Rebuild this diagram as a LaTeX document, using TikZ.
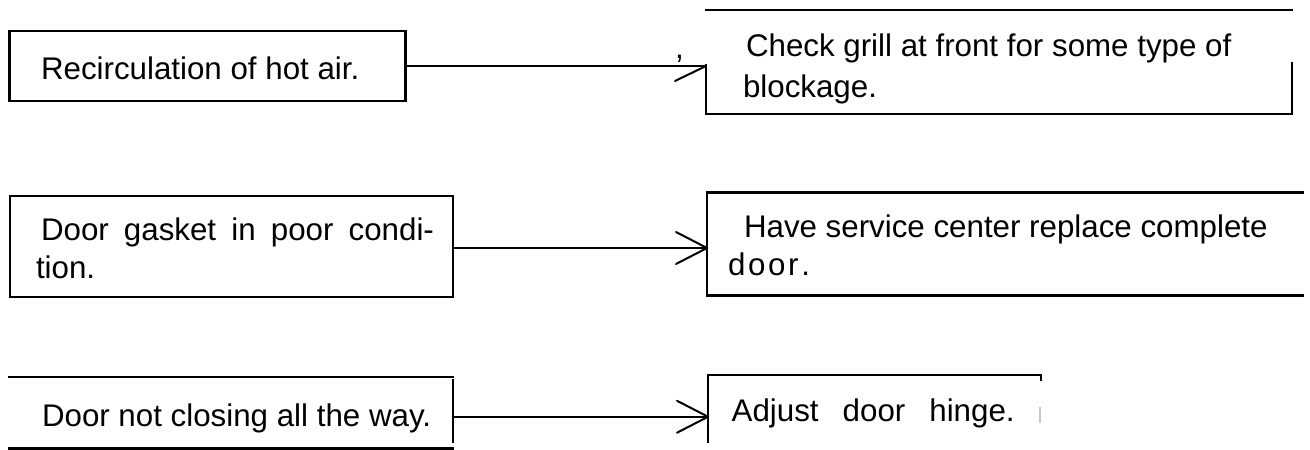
\documentclass[tikz,border=0pt]{standalone}
\usepackage{fontspec}
\setmainfont{Liberation Sans}
\usetikzlibrary{calc}
\begin{document}
\begin{tikzpicture}[x=1pt,y=-1pt,
  frame/.style={draw=none, rectangle, inner sep=0pt, outer sep=0pt},
  edge/.style={line width=2.4pt, line cap=rect},
  conn/.style={line width=2pt},
  barb/.style={line width=2pt, line cap=round, line join=round},
  txt/.style={anchor=base west, inner sep=0pt, outer sep=0pt, font=\fontsize{31.3}{40}\selectfont}]
\useasboundingbox (0,0) rectangle (1310,450);

% ---- row 1
\node[frame, minimum width=396pt, minimum height=70pt] (b1) at (207.5,66) {};
\draw[edge] (b1.north west) rectangle (b1.south east);
\node[txt] (t1) at (41,79) {Recirculation of hot air.};

\node[frame, minimum width=586pt, minimum height=104pt] (c1) at (999,62) {};
\draw[edge] (c1.north west) -- (c1.north east);
\draw[edge] (c1.south west) -- (c1.south east);
\draw[edge] (c1.south west) -- ($(c1.south west)+(0,-49)$);
\draw[edge] (c1.south east) -- ($(c1.south east)+(0,-51)$);
\node[txt] (t2a) at (746,56) {Check grill at front for some type of};
\node[txt] (t2b) at (743,97) {blockage.};

\draw[conn] (b1.east) -- (b1.east -| c1.west) coordinate (tip1);
\draw[barb] ($(tip1)+(-31,15)$) -- (tip1);
\node[txt] (cm) at (675,58) {,};

% ---- row 2
\node[frame, minimum width=443pt, minimum height=101pt] (b3) at (231.5,246.5) {};
\draw[edge] (b3.north west) rectangle (b3.south east);
\node[txt] (t3a) at (41,240.5) {\hbox to 393pt{Door\hfil gasket\hfil in\hfil poor\hfil condi-}};
\node[txt] (t3b) at (36,278.3) {tion.};

\node[frame, minimum width=596pt, minimum height=103pt] (c3) at (1005,243.8) {};
\draw[edge] (c3.north east) -- (c3.north west) -- (c3.south west) -- (c3.south east);
\node[txt] (t4a) at (744,237.3) {Have service center replace complete};
\node[txt] (t4b) at (728,275) {\hbox to 82pt{d\hfil o\hfil o\hfil r\hfil .}};

\path ($(b3.east)+(0,1.5)$) coordinate (s2);
\draw[conn] (s2) -- (s2 -| c3.west) coordinate (tip2);
\draw[barb] ($(tip2)+(-31,-16)$) -- (tip2) -- ($(tip2)+(-31,16)$);

% ---- row 3
\node[frame, minimum width=443.5pt, minimum height=71.5pt] (b5) at (231.25,412.75) {};
\draw[edge] (b5.north west) -- (b5.north east);
\draw[edge] (b5.south west) -- (b5.south east);
\draw[edge] ($(b5.north east)+(0,3)$) -- ($(b5.south east)+(0,-6.5)$);
\node[txt] (t5) at (42,426.7) {Door not closing all the way.};

\node[frame, minimum width=333pt, minimum height=67pt] (c5) at (874.5,408.5) {};
\draw[edge] (c5.south west) -- (c5.north west) -- (c5.north east) -- ($(c5.north east)+(0,5)$);
\draw[gray!45, line width=1.5pt] ($(c5.north east)+(-1,32)$) -- ($(c5.north east)+(-1,48)$);
\node[txt] (t6) at (731.7,421.7) {\hbox to 283pt{Adjust\hfil door\hfil hinge.}};

\path ($(b5.east)+(0,4)$) coordinate (s3);
\draw[conn] (s3) -- (s3 -| c5.west) coordinate (tip3);
\draw[barb] ($(tip3)+(-31,-16)$) -- (tip3) -- ($(tip3)+(-31,16)$);
\end{tikzpicture}
\end{document}
